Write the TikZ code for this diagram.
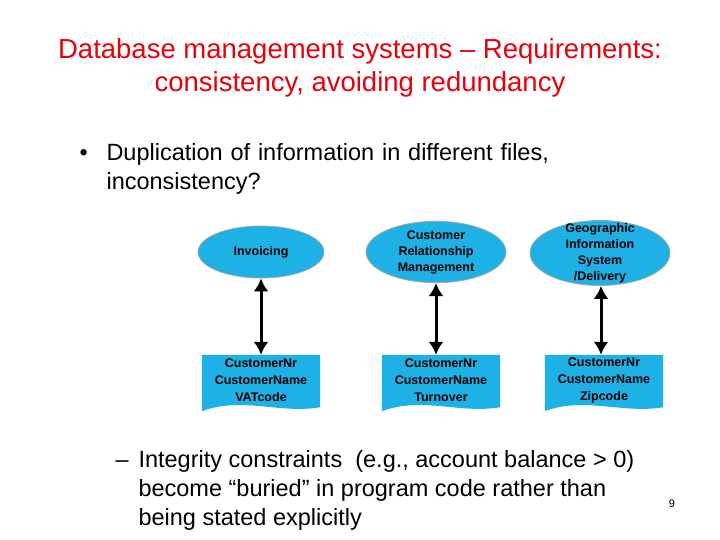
\documentclass[tikz,border=0pt]{standalone}
\usepackage{fontspec}
\setmainfont{Liberation Sans}
\usetikzlibrary{shapes.geometric,backgrounds,arrows.meta}
\definecolor{boxblue}{HTML}{1EB1E6}
\definecolor{titlered}{HTML}{E8000B}
\tikzset{
  prog/.style={ellipse,fill=boxblue,draw=gray!70,line width=0.8pt,minimum width=126pt,minimum height=52pt,inner sep=0pt,align=center,font=\fontsize{12.5}{16}\selectfont\bfseries},
  progtext/.style={align=center,inner sep=0pt,font=\fontsize{12.5}{16}\selectfont\bfseries},
  docnode/.style={rectangle,minimum width=118pt,minimum height=50pt,inner sep=0pt,align=center,font=\fontsize{12.5}{17}\selectfont\bfseries},
  link/.style={line width=3pt,{Latex[length=13pt,width=15pt]}-{Latex[length=13pt,width=15pt]}},
}
\newcommand{\docshape}[1]{%
  \fill[boxblue] (#1.north west) -- (#1.north east) -- ([yshift=-2pt]#1.south east)
  .. controls ([xshift=-40pt,yshift=-9pt]#1.south east) and ([xshift=40pt,yshift=9pt]#1.south west) .. ([yshift=-6pt]#1.south west) -- cycle;}
\begin{document}
\begin{tikzpicture}[x=1pt,y=-1pt]
\useasboundingbox (0,0) rectangle (720,540);
\node[text=titlered,font=\fontsize{27.5}{33}\selectfont,align=center] (title) at (360,68) {Database management systems -- Requirements:\\consistency, avoiding redundancy};
\node[anchor=north west,font=\fontsize{23.5}{29}\selectfont,align=left,text width=560pt] (b1) at (76,140) {\makebox[27pt][l]{\textbullet}Duplication of information in different files,\\\hspace*{27pt}inconsistency?};
\node[prog] (e1) at (261,252) {Invoicing};
\node[prog,minimum width=140pt,minimum height=61pt] (e2) at (436,252) {Customer\\Relationship\\Management};
\node[prog,minimum width=140pt,minimum height=65pt] (e3) at (600,253) {};
\node[progtext] (e3t) at (600,253) {Geographic\\Information\\System\\/Delivery};
\node[docnode] (d1) at (261,380) {CustomerNr\\CustomerName\\VATcode};
\node[docnode] (d2) at (441,380) {CustomerNr\\CustomerName\\Turnover};
\node[docnode] (d3) at (604,380) {CustomerNr\\CustomerName\\Zipcode};
\begin{pgfonlayer}{background}
\docshape{d1}\docshape{d2}\docshape{d3}
\end{pgfonlayer}
\draw[link] (e1.south) -- (d1.north);
\draw[link] ([xshift=-5pt]d2.north |- e2.south) -- ([xshift=-5pt]d2.north);
\draw[link] ([xshift=-3pt]d3.north |- e3.south) -- ([xshift=-3pt]d3.north);
\node[anchor=north west,font=\fontsize{23.5}{29}\selectfont,align=left] (b2) at (112,447) {\makebox[23pt][l]{--}Integrity constraints\ \ (e.g., account balance > 0)\\\hspace*{23pt}become “buried” in program code rather than\\\hspace*{23pt}being stated explicitly};
\node[font=\fontsize{11}{13}\selectfont] (pg) at (672,504) {9};
\end{tikzpicture}
\end{document}
